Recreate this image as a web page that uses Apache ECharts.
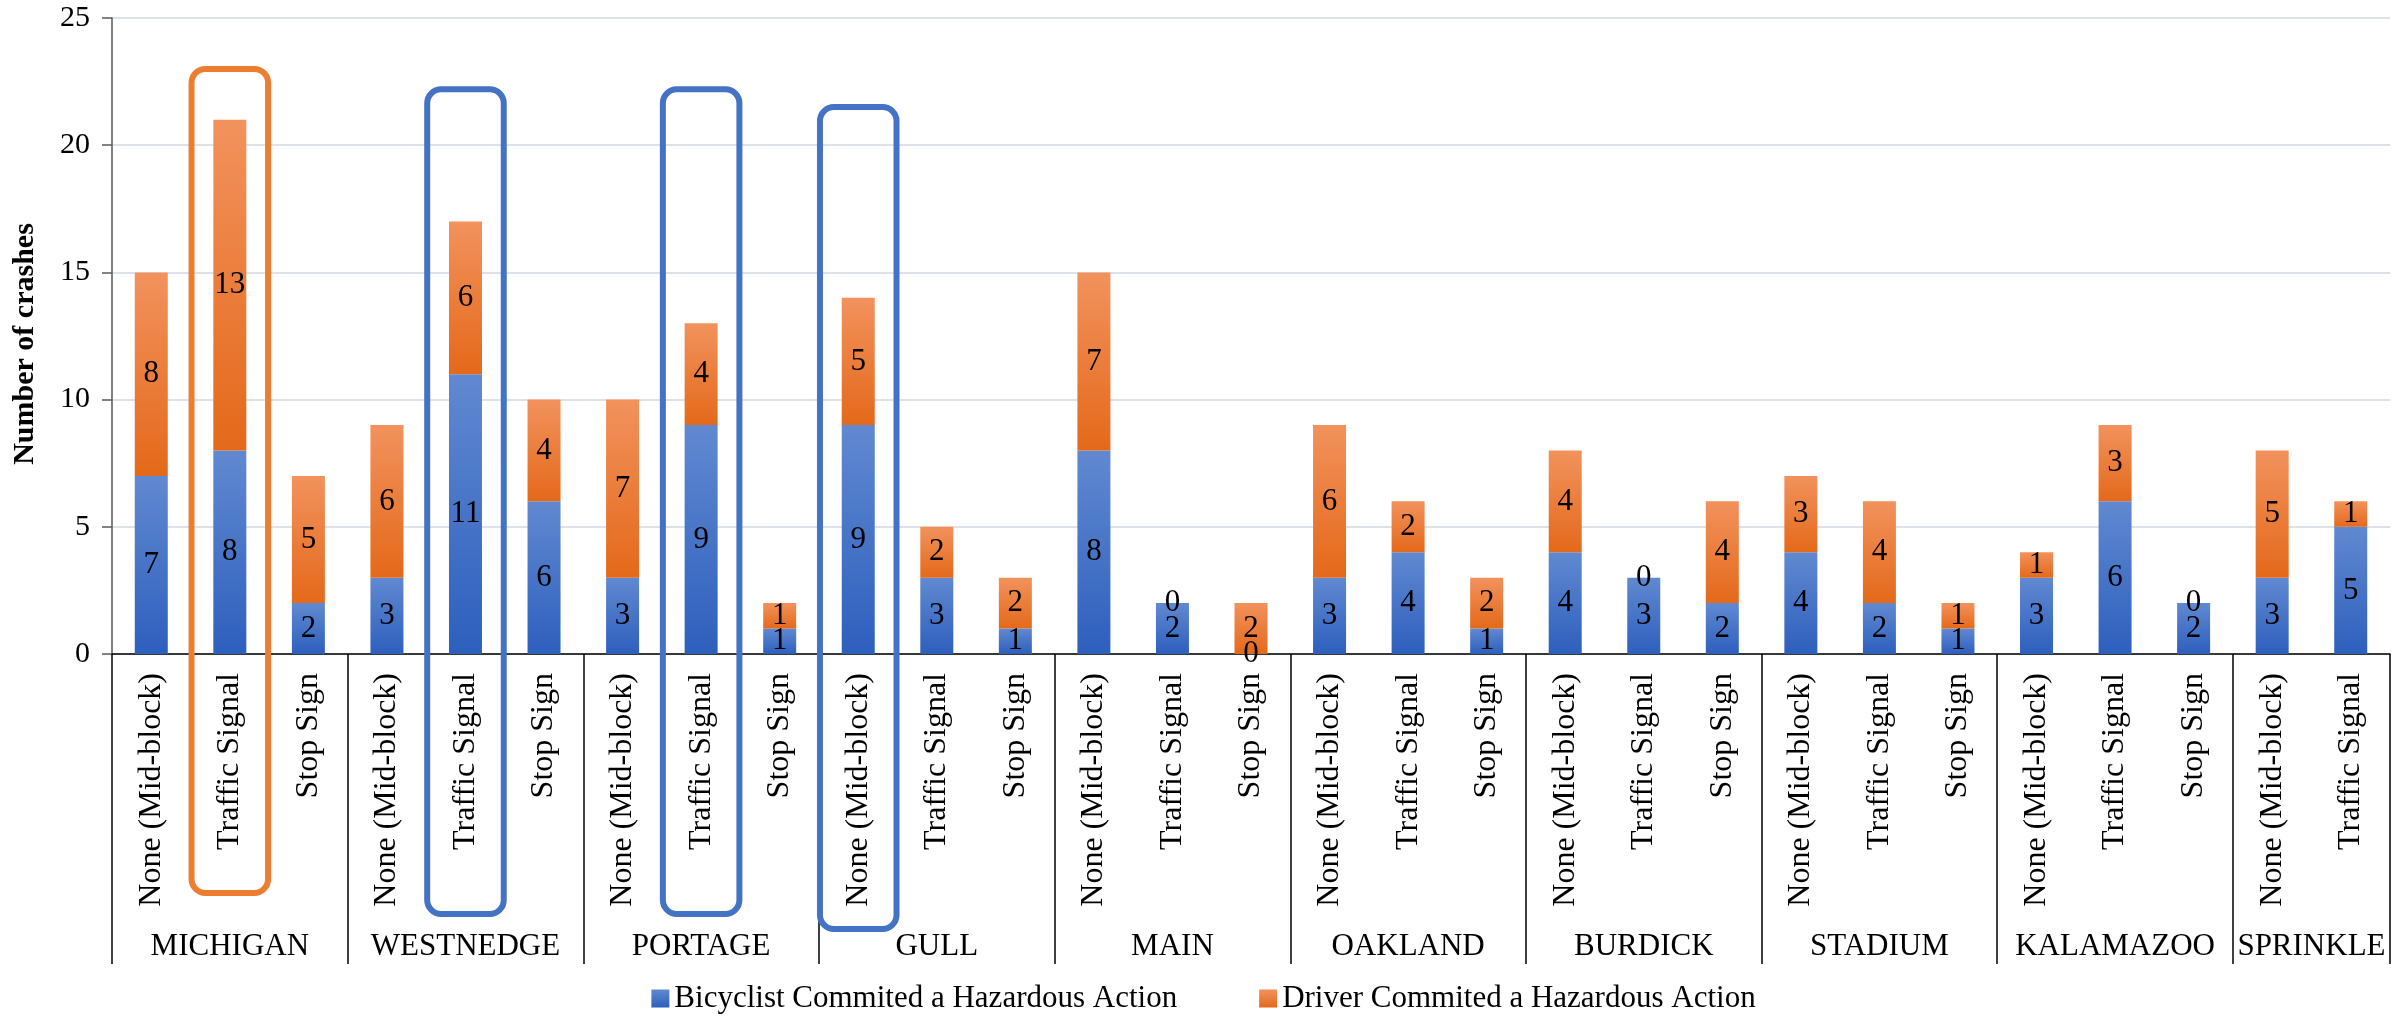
<!DOCTYPE html>
<html>
<head>
<meta charset="utf-8">
<script src="https://cdn.jsdelivr.net/npm/echarts@6/dist/echarts.min.js"></script>
<style>
  html, body { margin: 0; padding: 0; background: #fff; }
  #main { width: 2407px; height: 1021px; }
</style>
</head>
<body>
<div id="main"></div>
<script>
var chart = echarts.init(document.getElementById("main"));

// crash location type, one per bar
var places = [
	'None (Mid-block)', 'Traffic Signal', 'Stop Sign',
	'None (Mid-block)', 'Traffic Signal', 'Stop Sign',
	'None (Mid-block)', 'Traffic Signal', 'Stop Sign',
	'None (Mid-block)', 'Traffic Signal', 'Stop Sign',
	'None (Mid-block)', 'Traffic Signal', 'Stop Sign',
	'None (Mid-block)', 'Traffic Signal', 'Stop Sign',
	'None (Mid-block)', 'Traffic Signal', 'Stop Sign',
	'None (Mid-block)', 'Traffic Signal', 'Stop Sign',
	'None (Mid-block)', 'Traffic Signal', 'Stop Sign',
	'None (Mid-block)', 'Traffic Signal'
];
var roads = ['MICHIGAN', 'WESTNEDGE', 'PORTAGE', 'GULL', 'MAIN', 'OAKLAND', 'BURDICK', 'STADIUM', 'KALAMAZOO', 'SPRINKLE'];
var roadSpan = [3, 3, 3, 3, 3, 3, 3, 3, 3, 2];

var bicyclist = [7, 8, 2, 3, 11, 6, 3, 9, 1, 9, 3, 1, 8, 2, 0, 3, 4, 1, 4, 3, 2, 4, 2, 1, 3, 6, 2, 3, 5];
var driver    = [8, 13, 5, 6, 6, 4, 7, 4, 1, 5, 2, 2, 7, 0, 2, 6, 2, 2, 4, 0, 4, 3, 4, 1, 1, 3, 0, 5, 1];

var yTicks = [0, 5, 10, 15, 20, 25];

// boxes drawn round some bars: bar index, top (in crashes), depth below the axis (px)
var highlights = [
	{ idx: 1, top: 23.0, depth: 239, color: '#ed7d31' },
	{ idx: 4, top: 22.2, depth: 260, color: '#4472c4' },
	{ idx: 7, top: 22.2, depth: 260, color: '#4472c4' },
	{ idx: 9, top: 21.5, depth: 275, color: '#4472c4' }
];

var serif = 'Liberation Serif';

// where each road group starts and its middle
var starts = [], mids = [];
var acc = 0;
roadSpan.forEach(function (n) {
	starts.push(acc);
	mids.push(acc + n / 2);
	acc += n;
});

function grad(top, bottom) {
	return new echarts.graphic.LinearGradient(0, 0, 0, 1, [
		{ offset: 0, color: top },
		{ offset: 1, color: bottom }
	]);
}

var labelStyle = {
	show: true,
	position: 'inside',
	color: '#000',
	fontFamily: serif,
	fontSize: 31
};

option = {
	backgroundColor: '#fff',
	animation: false,
	grid: {
		left: 112,
		right: 17,
		top: 18,
		bottom: 367,
		outerBoundsMode: 'none'
	},
	legend: {
		bottom: 2,
		left: 'center',
		itemWidth: 18,
		itemHeight: 18,
		itemGap: 82,
		icon: 'rect',
		textStyle: { fontFamily: serif, fontSize: 31, color: '#000' },
		data: ['Bicyclist Commited a Hazardous Action', 'Driver Commited a Hazardous Action']
	},
	xAxis: [{
		type: 'category',
		data: places,
		axisLine: { lineStyle: { color: '#000', width: 1.5 } },
		axisTick: {
			show: true,
			length: 310,
			interval: function (i) { return starts.indexOf(i) >= 0; },
			lineStyle: { color: '#000', width: 1.5 }
		},
		axisLabel: {
			interval: 0,
			rotate: 90,
			margin: 19,
			color: '#000',
			fontFamily: serif,
			fontSize: 32
		}
	}, {
		// road names under the place labels
		type: 'value',
		position: 'bottom',
		min: 0,
		max: places.length,
		interval: 0.5,
		axisLine: { show: false },
		axisTick: { show: false },
		splitLine: { show: false },
		axisLabel: {
			margin: 277,
			color: '#000',
			fontFamily: serif,
			fontSize: 31,
			showMinLabel: true,
			showMaxLabel: true,
			formatter: function (v) {
				for (var k = 0; k < mids.length; k++) {
					if (Math.abs(mids[k] - v) < 1e-6) return roads[k];
				}
				return '';
			}
		}
	}],
	yAxis: {
		type: 'value',
		min: yTicks[0],
		max: yTicks[yTicks.length - 1],
		interval: yTicks[1] - yTicks[0],
		name: 'Number of crashes',
		nameLocation: 'middle',
		nameGap: 72,
		nameTextStyle: { fontFamily: serif, fontSize: 30, fontWeight: 'bold', color: '#000', padding: [0, 16, 0, 0] },
		axisLine: { show: true, lineStyle: { color: '#595959', width: 1.5 } },
		axisTick: { show: true, length: 10, lineStyle: { color: '#595959', width: 1.5 } },
		axisLabel: { margin: 22, color: '#000', fontFamily: serif, fontSize: 30 },
		splitLine: { lineStyle: { color: '#dde2ea', width: 2 } }
	},
	series: [{
		name: 'Bicyclist Commited a Hazardous Action',
		type: 'bar',
		stack: 'total',
		barWidth: 33,
		data: bicyclist,
		itemStyle: { color: grad('#6189d1', '#2d5fbd') },
		label: labelStyle
	}, {
		name: 'Driver Commited a Hazardous Action',
		type: 'bar',
		stack: 'total',
		barWidth: 33,
		data: driver,
		itemStyle: { color: grad('#f2925d', '#e4691a') },
		label: labelStyle
	}]
};
chart.setOption(option);

// rounded boxes around the highlighted bars
var band = (2407 - 112 - 17) / places.length;
var zeroY = chart.convertToPixel({ yAxisIndex: 0 }, 0);
var boxes = highlights.map(function (h) {
	var cx = chart.convertToPixel({ xAxisIndex: 0 }, h.idx);
	var ty = chart.convertToPixel({ yAxisIndex: 0 }, h.top);
	var w = band - 2;
	return {
		type: 'rect',
		z: 100,
		shape: { x: cx - w / 2, y: ty, width: w, height: zeroY + h.depth - ty, r: 14 },
		style: { fill: 'none', stroke: h.color, lineWidth: 6 }
	};
});
chart.setOption({ graphic: boxes });
</script>
</body>
</html>
